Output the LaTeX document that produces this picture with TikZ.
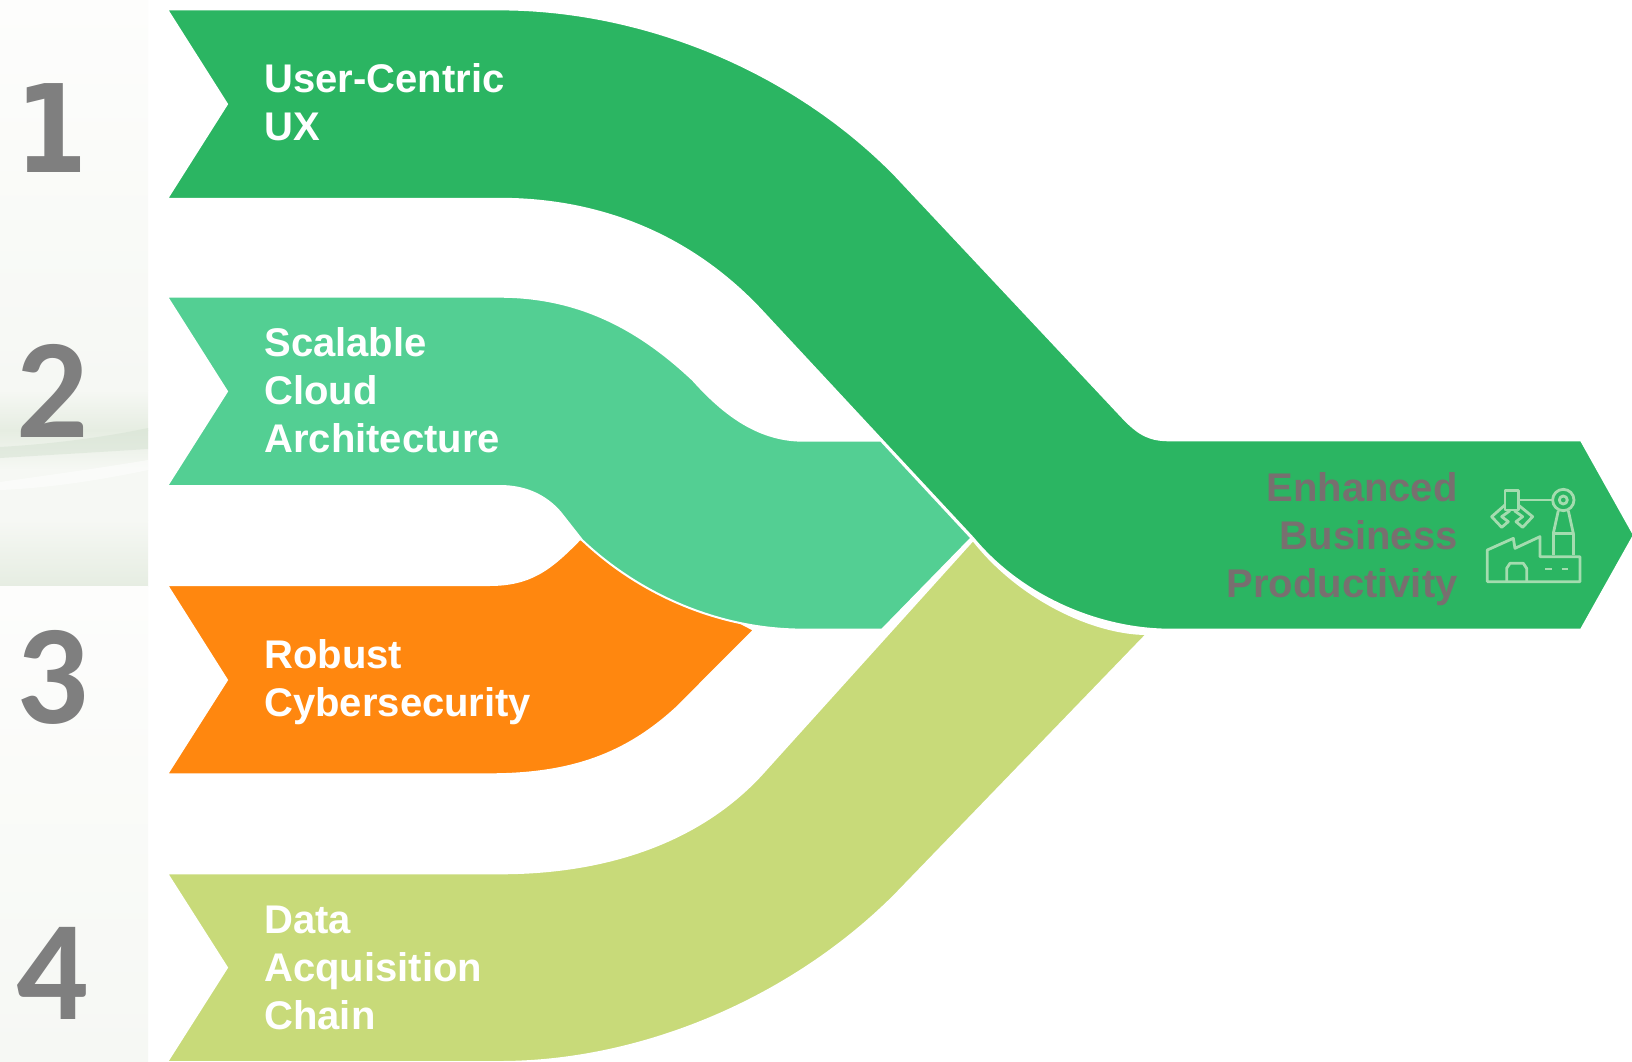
\documentclass[tikz,border=0pt]{standalone}
\usepackage{fontspec}
\setmainfont{Liberation Sans}
\newfontfamily\numfont[BoldFont={Carlito Bold}]{Carlito}
\newfontfamily\onefont{DejaVu Sans}
\definecolor{bandone}{HTML}{2BB562}
\definecolor{bandtwo}{HTML}{53CF93}
\definecolor{bandthree}{HTML}{FF870F}
\definecolor{bandfour}{HTML}{C8DA79}
\definecolor{goaltext}{HTML}{786F6F}
\definecolor{icongreen}{HTML}{A4DCAF}
\definecolor{numgray}{HTML}{7F7F7F}
\definecolor{stripa}{HTML}{FDFDFC}
\definecolor{stripb}{HTML}{F6F8F4}
\definecolor{stripc}{HTML}{EEF3EC}
\definecolor{stripd}{HTML}{E6EDE2}
\definecolor{wisp}{HTML}{D5E2D2}
\tikzset{
    band/.style = {draw=white, line width=1pt, line join=miter},
    bandlabel/.style = {anchor=west, align=left, text=white, inner sep=0pt, font=\fontsize{20}{24}\selectfont\bfseries},
    goallabel/.style = {anchor=east, align=right, text=goaltext, inner sep=0pt, font=\fontsize{20}{24}\selectfont\bfseries},
    numlabel/.style = {text=numgray, inner sep=0pt, font=\fontsize{71}{71}\selectfont\numfont\bfseries},
    iconline/.style = {draw=icongreen, line width=1.4pt, line join=round}
}
\begin{document}
\begin{tikzpicture}[x=0.5pt, y=-0.5pt]
    \useasboundingbox (0, 0) rectangle (1632, 1061);
    % left strip
    \fill[white] (0, 0) rectangle (1632, 1061);
    \foreach \ytop/\ybot/\ctop/\cbot in {0/390/stripa/stripb, 390/430/stripb/stripd, 430/470/stripd/stripb, 470/520/stripb/stripb, 520/586/stripb/stripd, 586/1061/stripa/stripb}
        \shade[top color=\ctop, bottom color=\cbot] (0, \ytop) rectangle (148, \ybot);
    \fill[wisp, opacity=0.5] (0, 447) .. controls (50, 444) and (100, 438) .. (148, 428) -- (148, 449) .. controls (100, 452) and (50, 455) .. (0, 458) -- cycle;
    \fill[white, opacity=0.5] (0, 482) .. controls (50, 475) and (100, 468) .. (148, 460) -- (148, 470) .. controls (100, 480) and (50, 488) .. (0, 490) -- cycle;

    % bands, back to front
    \draw[band, fill=bandfour]
        (167, 873.3) -- (499.6, 873.3) .. controls (610, 873.3) and (700, 840) .. (760, 776)
        -- (973, 540) .. controls (1020, 600) and (1095, 634) .. (1147, 634) -- (895, 895) .. controls (790, 1000) and (640, 1062) .. (499.6, 1062)
        -- (167, 1062) -- (227, 967.6) -- cycle;
    \draw[band, fill=bandthree]
        (167, 585) -- (489, 585) .. controls (530, 585) and (550, 570) .. (580, 539)
        -- (754, 630) -- (676.5, 707.7) .. controls (625, 755) and (570, 774.3) .. (489, 774.3)
        -- (167, 774.3) -- (227, 680) -- cycle;
    \draw[band, fill=bandtwo]
        (167, 296.7) -- (499.6, 296.7) .. controls (580, 296.7) and (640, 330) .. (693, 380)
        .. controls (720, 410) and (755, 440.7) .. (803.6, 440.7) -- (881, 440.7) -- (971.4, 538) -- (882, 629.6)
        -- (803, 629.6) .. controls (720, 629.6) and (640, 595) .. (582, 540) -- (560, 512)
        .. controls (545, 495) and (525, 486) .. (499.6, 486) -- (167, 486) -- (227, 391.4) -- cycle;
    \draw[band, fill=bandone]
        (167, 9.4) -- (499.6, 9.4) .. controls (640, 9.4) and (790, 68) .. (895, 175)
        -- (1125, 420) .. controls (1140, 435) and (1150, 440.3) .. (1170, 440.3)
        -- (1581, 440.3) -- (1634, 535) -- (1581, 629.6) -- (1165, 629.6)
        .. controls (1095, 628) and (1020, 595) .. (973, 538)
        -- (760, 309) .. controls (690, 235) and (600, 198.8) .. (499.6, 198.8)
        -- (167, 198.8) -- (227, 104.1) -- cycle;

    \node[numlabel, font=\fontsize{61}{61}\selectfont\onefont\bfseries, xscale=0.85] (numone) at (52, 128) {1};
    \node[numlabel] (numtwo) at (52, 391) {2};
    \node[numlabel] (numthree) at (52, 677) {3};
    \node[numlabel] (numfour) at (52, 973) {4};

    \node[bandlabel] (ux) at (264, 102) {User-Centric\\UX};
    \node[bandlabel] (cloud) at (264, 390) {Scalable\\Cloud\\Architecture};
    \node[bandlabel] (cyber) at (264, 682) {Robust\\Cybersecurity};
    \node[bandlabel] (data) at (264, 967.5) {Data\\Acquisition\\Chain};
    \node[goallabel] (goal) at (1458, 539.5) {Enhanced\\Business\\Productivity};

    % factory with robot arm
    \begin{scope}[shift={(1180, 420)}, scale=0.3333]
        \draw[iconline] (922, 485) -- (922, 390) -- (1000, 355) -- (1005, 385) -- (1080, 350) -- (1080, 410) -- (1200, 410) -- (1200, 485) -- cycle;
        \draw[iconline] (980, 485) -- (980, 445) -- (990, 430) -- (1030, 430) -- (1040, 445) -- (1040, 485);
        \draw[iconline] (1095, 447) -- (1115, 447) (1145, 447) -- (1165, 447);
        \draw[iconline] (1120, 405) -- (1120, 340) -- (1180, 340) -- (1180, 405);
        \draw[iconline] (1120, 340) -- (1135, 272) (1165, 272) -- (1180, 340);
        \draw[iconline] (1150, 240) circle[radius=32] (1150, 240) circle[radius=12];
        \draw[iconline] (1018, 240) -- (1118, 240);
        \draw[iconline] (975, 212) rectangle (1015, 270);
        \draw[iconline] (975, 255) -- (935, 290) -- (965, 322) -- (985, 305) -- (965, 290) -- (990, 272);
        \draw[iconline] (1015, 255) -- (1058, 290) -- (1028, 322) -- (1008, 305) -- (1028, 290) -- (1003, 272);
    \end{scope}
\end{tikzpicture}
\end{document}
